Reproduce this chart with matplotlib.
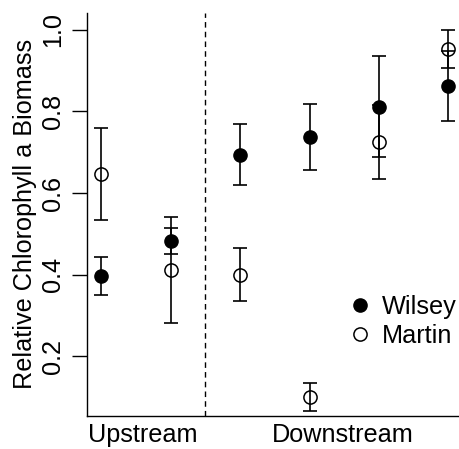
import matplotlib
matplotlib.use("Agg")
from matplotlib import pyplot as plt

plt.rcParams['font.family'] = ['Liberation Sans', 'DejaVu Sans']

# site positions: 1-2 upstream, 3-6 downstream
sites = [1, 2, 3, 4, 5, 6]
wilsey = [0.396, 0.483, 0.694, 0.737, 0.811, 0.863]
wilsey_err = [0.046, 0.032, 0.074, 0.080, 0.124, 0.086]
martin = [0.647, 0.411, 0.400, 0.100, 0.725, 0.953]
martin_err = [0.113, 0.129, 0.065, 0.034, 0.090, 0.047]
region_labels = ["Upstream", "Downstream"]
region_pos = [1.6, 4.48]

fs = 18.2

fig = plt.figure(figsize=(4.6, 4.49), dpi=100)
ax = fig.add_axes([0.19, 0.074, 0.815, 0.898])

ax.errorbar(sites, martin, yerr=martin_err, fmt='none', ecolor='black',
            elinewidth=1.2, capsize=4.7, capthick=1.2)
ax.errorbar(sites, wilsey, yerr=wilsey_err, fmt='none', ecolor='black',
            elinewidth=1.2, capsize=4.7, capthick=1.2)
ax.plot(sites, martin, 'o', ms=9.5, mfc='none', mec='black', mew=1.1,
        label='Martin', zorder=3)
ax.plot(sites, wilsey, 'o', ms=9.5, mfc='black', mec='black',
        label='Wilsey', zorder=4)

ax.axvline(2.5, color='black', lw=1, ls=(0, (4, 3)))

ax.set_xlim(0.8, 6.2)
ax.set_ylim(0.054, 1.042)
ax.set_yticks([0.2, 0.4, 0.6, 0.8, 1.0])
ax.set_yticklabels(['0.2', '0.4', '0.6', '0.8', '1.0'], rotation=90, va='center')
ax.set_xticks(region_pos)
ax.set_xticklabels(region_labels)
ax.tick_params(axis='x', length=0, pad=5, labelsize=fs)
ax.tick_params(axis='y', length=11, width=1, pad=5, labelsize=fs)
ax.set_ylabel('Relative Chlorophyll a Biomass', fontsize=fs, labelpad=3)

ax.spines['top'].set_visible(False)
ax.spines['right'].set_visible(False)
ax.spines['left'].set_linewidth(1)
ax.spines['bottom'].set_linewidth(1)

h, l = ax.get_legend_handles_labels()
ax.legend([h[1], h[0]], [l[1], l[0]], loc='lower right', bbox_to_anchor=(1.012, 0.143),
          frameon=False, fontsize=fs, handlelength=0.8, handletextpad=0.45,
          labelspacing=0.2, borderaxespad=0)

fig.savefig('out.png', dpi=100)
